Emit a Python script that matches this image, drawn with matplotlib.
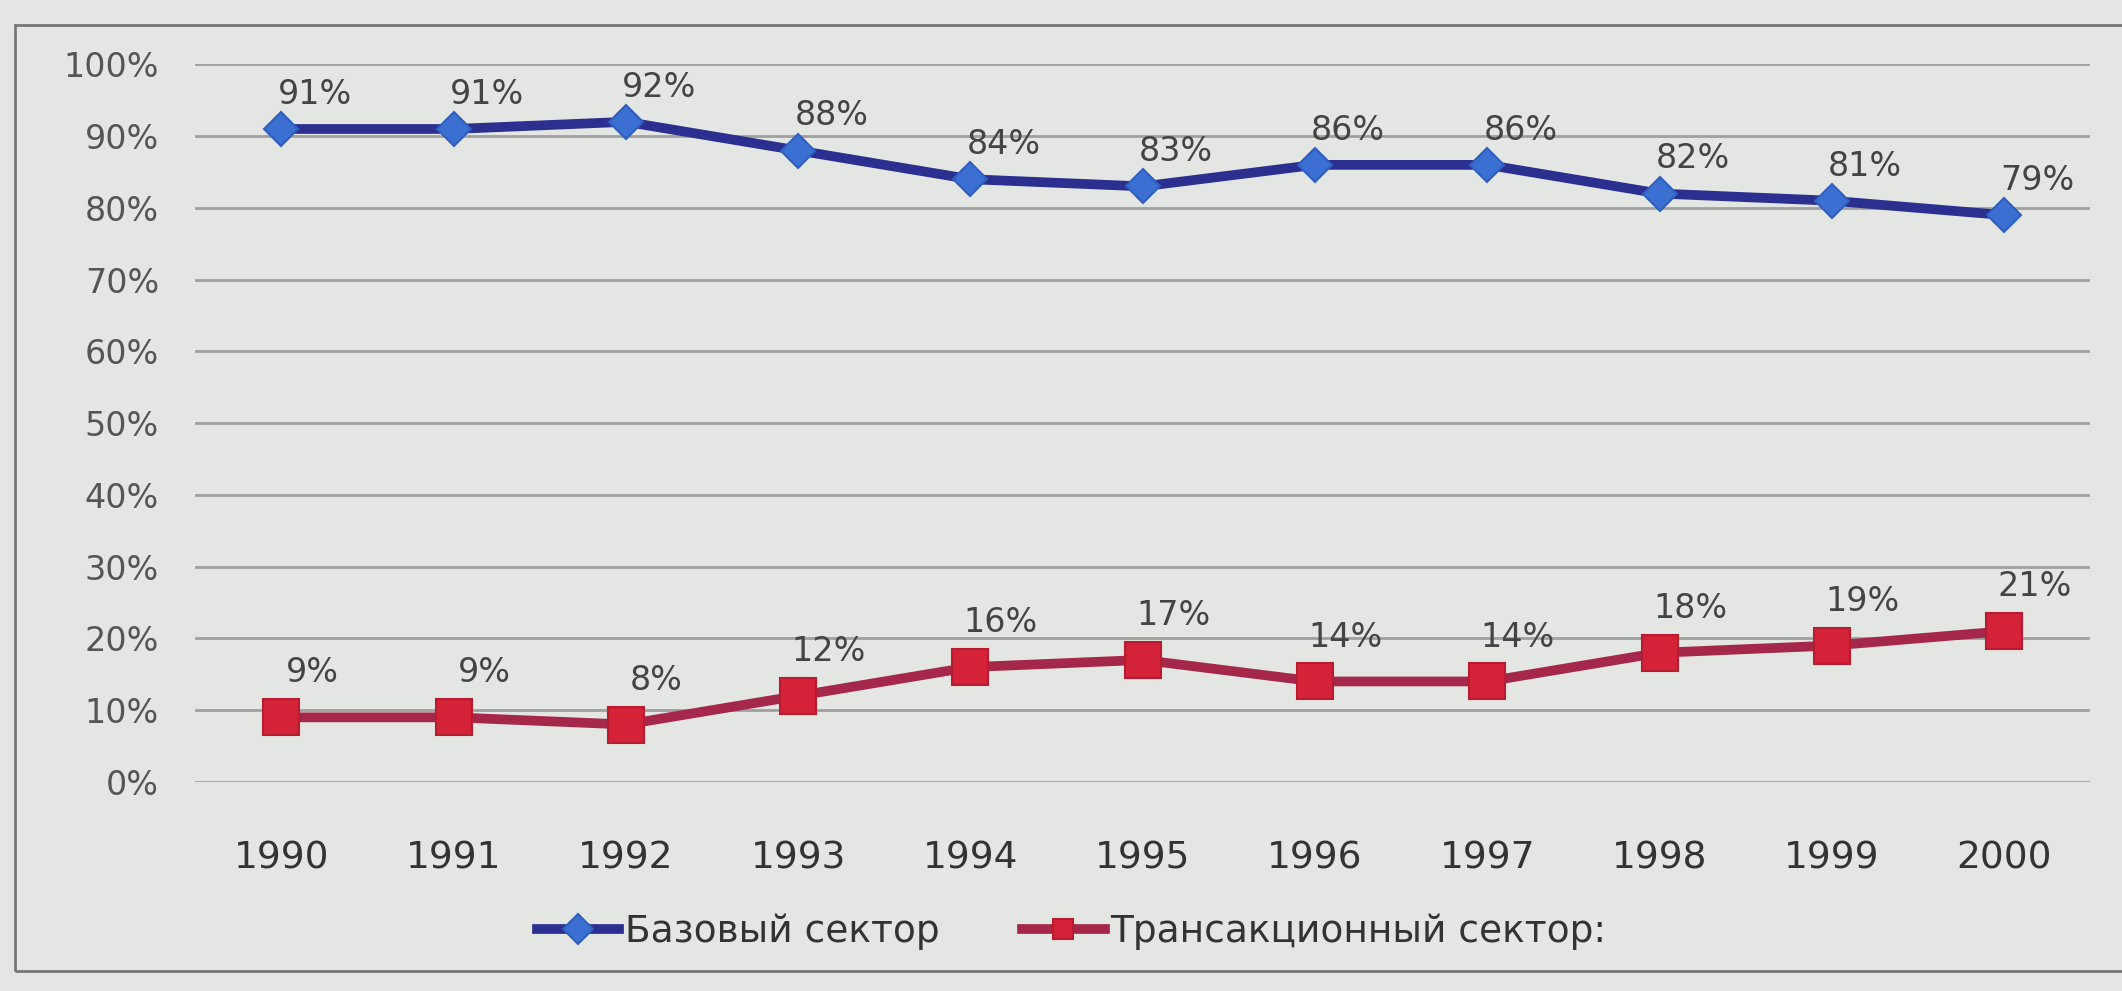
import matplotlib
matplotlib.use("Agg")
import matplotlib.pyplot as plt
from matplotlib.patches import Rectangle

years = ["1990", "1991", "1992", "1993", "1994", "1995", "1996", "1997", "1998", "1999", "2000"]
base_sector = [91, 91, 92, 88, 84, 83, 86, 86, 82, 81, 79]
trans_sector = [9, 9, 8, 12, 16, 17, 14, 14, 18, 19, 21]
y_ticks = [0, 10, 20, 30, 40, 50, 60, 70, 80, 90, 100]
series_names = ["Базовый сектор", "Трансакционный сектор:"]

plt.rcParams['font.family'] = ['DejaVu Sans']

bg = '#e4e6e3'
fig = plt.figure(figsize=(21.22, 9.91), dpi=100, facecolor=bg)
ax = fig.add_axes([0.092, 0.211, 0.893, 0.724], facecolor=bg)

x = list(range(len(years)))
ax.plot(x, base_sector, color='#2b2f8f', lw=7, marker='D', markersize=17,
        markerfacecolor='#3b6fd2', markeredgecolor='#2f5fc0', markeredgewidth=1.5,
        label=series_names[0], zorder=3)
ax.plot(x, trans_sector, color='#a5284a', lw=7, marker='s', markersize=26,
        markerfacecolor='#d42338', markeredgecolor='#b81c30', markeredgewidth=1.5,
        label=series_names[1], zorder=3)

for xi, v in zip(x, base_sector):
    ax.annotate(f"{v}%", (xi, v), xytext=(24, 25), textcoords='offset points',
                ha='center', va='center', fontsize=24, color='#444444')
for xi, v in zip(x, trans_sector):
    ax.annotate(f"{v}%", (xi, v), xytext=(22, 32), textcoords='offset points',
                ha='center', va='center', fontsize=24, color='#444444')

ax.set_xlim(-0.5, len(years) - 0.5)
ax.set_ylim(0, 100)
ax.set_yticks(y_ticks)
ax.set_yticklabels([f"{t}%" for t in y_ticks])
ax.set_xticks(x)
ax.set_xticklabels(years)
ax.tick_params(axis='y', length=0, pad=26, labelsize=24, labelcolor='#555555')
ax.tick_params(axis='x', length=0, pad=42, labelsize=27, labelcolor='#333333')
ax.grid(axis='y', color='#a0a0a0', lw=2)
ax.set_axisbelow(True)
for s in ax.spines.values():
    s.set_visible(False)

leg = fig.legend(loc='center', bbox_to_anchor=(0.505, 0.06), ncol=2, frameon=False,
                 fontsize=27, handlelength=2.2, handletextpad=0.15, columnspacing=2.2,
                 labelcolor='#333333')
for h in leg.legend_handles:
    h.set_markersize(15)

fig.add_artist(Rectangle((0.007, 0.02), 1.0, 0.955, transform=fig.transFigure,
                         fill=False, edgecolor='#777777', lw=2))

fig.savefig("out.png", dpi=100, facecolor=bg)
